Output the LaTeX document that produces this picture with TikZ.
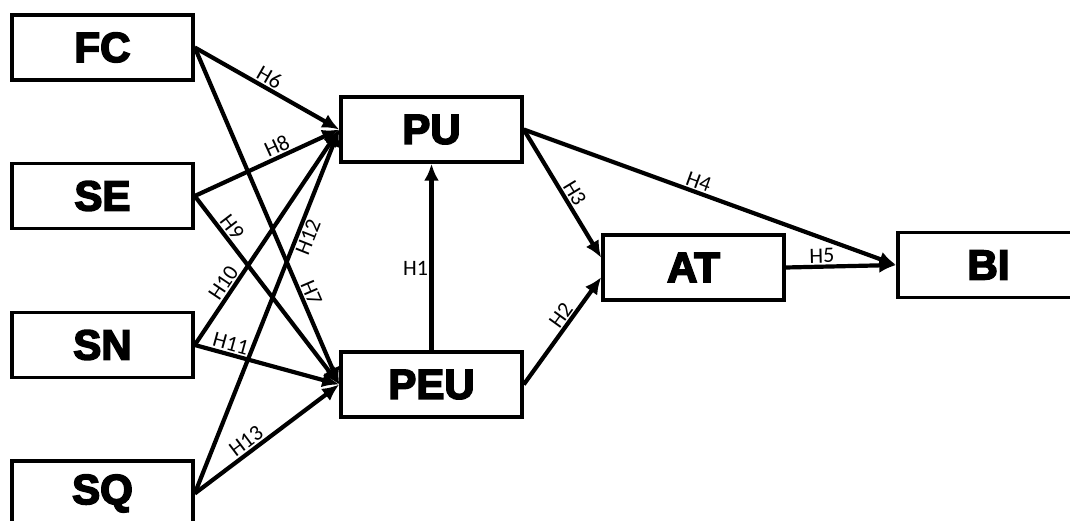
\documentclass[tikz,border=0pt]{standalone}
\usepackage{fontspec}
\usetikzlibrary{arrows.meta}
\newfontfamily\heavyfont[BoldFeatures={FakeBold=4}]{Liberation Sans}
\newfontfamily\labfont{Carlito}
\begin{document}
\begin{tikzpicture}[x=1pt,y=-1pt,
  box/.style={draw=black, line width=3.5pt, minimum width=181pt, minimum height=65pt, inner sep=0pt,
    font=\heavyfont\bfseries\fontsize{42}{42}\selectfont},
  conn/.style={line width=4.2pt, -{Latex[length=17pt,width=15pt]}},
  lab/.style={font=\labfont\fontsize{22}{22}\selectfont, inner sep=1.5pt}]
\useasboundingbox[fill=white] (0,0) rectangle (1070,521);
\node[box] (FC)  at (102.5,47.5)  {FC};
\node[box] (SE)  at (102.5,196)   {SE};
\node[box] (SN)  at (102.5,345)   {SN};
\node[box] (SQ)  at (102.5,493.5) {SQ};
\node[box] (PU)  at (431.5,129.5) {PU};
\node[box] (PEU) at (431.5,384.5) {PEU};
\node[box] (AT)  at (693.5,267.5) {AT};
\node[box] (BI)  at (988.5,265)   {BI};
% into PU / PEU
\draw[conn] (FC.east) -- node[lab, sloped, above, pos=0.48] {H6} (PU.west);
\draw[conn] (FC.east) -- node[lab, sloped, above, pos=0.74] {H7} (PEU.west);
\draw[conn] (SE.east) -- node[lab, sloped, above, pos=0.6] {H8} (PU.west);
\draw[conn] (SE.east) -- node[lab, sloped, above, pos=0.2] {H9} (PEU.west);
\draw[conn] (SN.east) -- node[lab, sloped, above, pos=0.26] {H10} (PU.west);
\draw[conn] (SN.east) -- node[lab, sloped, above, pos=0.23] {H11} (PEU.west);
\draw[conn] (SQ.east) -- node[lab, sloped, below, pos=0.715] {H12} (PU.west);
\draw[conn] (SQ.east) -- node[lab, sloped, above, pos=0.4] {H13} (PEU.west);
% central
\draw[conn] (PEU.north) -- node[lab, left, pos=0.44] {H1} (PU.south);
\draw[conn] (PEU.east) -- node[lab, sloped, above, pos=0.59] {H2} (AT.186);
\draw[conn] (PU.east) -- node[lab, sloped, above, pos=0.54] {H3} (AT.174);
\draw[conn] (PU.east) -- node[lab, sloped, above, pos=0.46] {H4} (BI.west);
\draw[conn] (AT.east) -- node[lab, sloped, above, pos=0.33] {H5} (BI.west);
\end{tikzpicture}
\end{document}
